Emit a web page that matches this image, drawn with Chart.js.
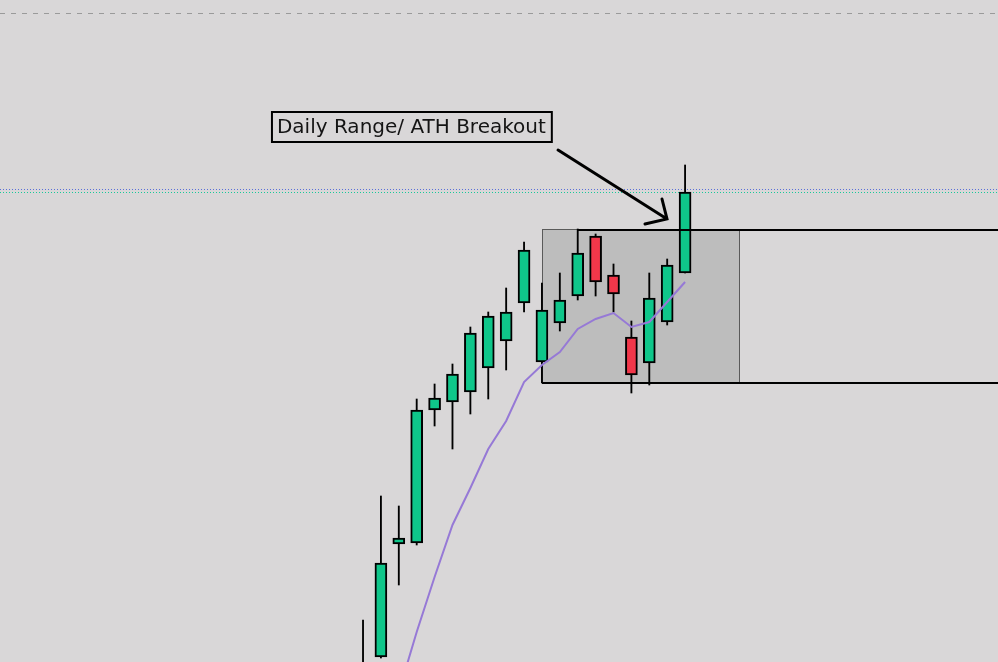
<!DOCTYPE html>
<html>
<head>
<meta charset="utf-8">
<script src="https://cdn.jsdelivr.net/npm/chart.js@4.4.0/dist/chart.umd.min.js"></script>
<style>
  html, body { margin: 0; padding: 0; background: #d9d7d8; overflow: hidden; }
  #wrap { width: 998px; height: 662px; }
</style>
</head>
<body>
<div id="wrap"><canvas id="chart" width="998" height="662"></canvas></div>
<script>
// daily candles, price in chart units (0 = bottom of the view)
const bars  = [0, 1, 2, 3, 4, 5, 6, 7, 8, 9, 10, 11, 12, 13, 14, 15, 16, 17, 18];
const open  = [-58, 5, 118, 119, 252, 260, 270, 294, 321, 359, 300, 339, 366, 426, 387, 325, 299, 340, 389];
const close = [-18, 99, 124, 252, 264, 288, 329, 346, 350, 412, 352, 362, 409, 380, 368, 287, 364, 397, 470];
const high  = [42, 166, 156, 263, 278, 298, 335, 350, 374, 420, 379, 389, 433, 428, 398, 341, 389, 403, 497];
const low   = [-78, 4, 77, 117, 236, 213, 248, 263, 292, 350, 279, 331, 362, 366, 350, 269, 277, 337, 389];
const ma    = [-130, -60, -30, 30, 85, 137, 174, 213, 241, 280, 297, 310, 333, 343, 349, 335, 340, 360, 380];

// levels drawn on the chart
const prevHigh = 649;
const athLevel = 473;
const lastClose = 470;
const rangeHigh = 433;
const rangeLow = 280;
const rangeFrom = 10;
const rangeTo = 21;
const highLineFrom = 12;
const labelText = 'Daily Range/ ATH Breakout';

const GREEN = '#0fc68a';
const RED = '#f1374a';

const levels = {
  id: 'levels',
  beforeDatasetsDraw(chart) {
    const { ctx, chartArea: a, scales: { x, y } } = chart;
    ctx.save();

    // dashed line near the top
    ctx.strokeStyle = '#9a9a9a';
    ctx.lineWidth = 1;
    ctx.setLineDash([5, 6]);
    let py = Math.round(y.getPixelForValue(prevHigh)) + 0.5;
    ctx.beginPath(); ctx.moveTo(a.left, py); ctx.lineTo(a.right, py); ctx.stroke();

    // dotted price lines
    ctx.setLineDash([1, 2]);
    ctx.strokeStyle = '#5b6fd8';
    py = Math.round(y.getPixelForValue(athLevel)) + 0.5;
    ctx.beginPath(); ctx.moveTo(a.left, py); ctx.lineTo(a.right, py); ctx.stroke();
    ctx.strokeStyle = '#18c99a';
    py = Math.round(y.getPixelForValue(lastClose)) + 0.5;
    ctx.beginPath(); ctx.moveTo(a.left, py); ctx.lineTo(a.right, py); ctx.stroke();
    ctx.setLineDash([]);

    // range box
    const x0 = Math.round(x.getPixelForValue(rangeFrom));
    const x1 = Math.round(x.getPixelForValue(rangeTo));
    const y0 = Math.round(y.getPixelForValue(rangeHigh));
    const y1 = Math.round(y.getPixelForValue(rangeLow));
    ctx.fillStyle = '#bdbdbd';
    ctx.fillRect(x0, y0, x1 - x0, y1 - y0);
    ctx.strokeStyle = '#5a5a5a';
    ctx.strokeRect(x0 + 0.5, y0 + 0.5, x1 - x0, y1 - y0);
    ctx.restore();
  },
  afterDatasetsDraw(chart) {
    const { ctx, chartArea: a, scales: { x, y } } = chart;
    ctx.save();

    // range high / low lines
    ctx.strokeStyle = '#000';
    ctx.lineWidth = 2;
    let py = Math.round(y.getPixelForValue(rangeHigh)) + 1;
    ctx.beginPath(); ctx.moveTo(Math.round(x.getPixelForValue(highLineFrom)), py); ctx.lineTo(a.right, py); ctx.stroke();
    py = Math.round(y.getPixelForValue(rangeLow)) + 1;
    ctx.beginPath(); ctx.moveTo(Math.round(x.getPixelForValue(rangeFrom)), py); ctx.lineTo(a.right, py); ctx.stroke();

    // label
    ctx.font = '20px "DejaVu Sans"';
    ctx.textBaseline = 'middle';
    const w = ctx.measureText(labelText).width;
    const lx = x.getPixelForValue(-5.09);
    const ly = y.getPixelForValue(550);
    ctx.lineWidth = 2;
    ctx.strokeRect(lx, ly, w + 11, 30);
    ctx.fillStyle = '#141414';
    ctx.fillText(labelText, lx + 5, ly + 16);

    // arrow
    ctx.lineWidth = 3;
    ctx.lineCap = 'round';
    const tx = x.getPixelForValue(16.99), ty = y.getPixelForValue(443);
    ctx.beginPath();
    ctx.moveTo(x.getPixelForValue(10.9), y.getPixelForValue(512));
    ctx.lineTo(tx, ty);
    ctx.moveTo(x.getPixelForValue(15.76), y.getPixelForValue(438));
    ctx.lineTo(tx, ty);
    ctx.lineTo(x.getPixelForValue(16.71), y.getPixelForValue(463));
    ctx.stroke();
    ctx.restore();
  }
};

new Chart(document.getElementById('chart'), {
  type: 'bar',
  data: {
    datasets: [
      {
        type: 'line',
        data: bars.map((b, i) => ({ x: b, y: ma[i] })),
        borderColor: '#9679d6',
        borderWidth: 2,
        pointRadius: 0,
        tension: 0,
        order: 1
      },
      {
        data: bars.map((b, i) => ({ x: b, y: [open[i], close[i]] })),
        backgroundColor: bars.map(i => close[i] >= open[i] ? GREEN : RED),
        borderColor: '#000',
        borderWidth: 2,
        borderSkipped: false,
        barThickness: 12,
        grouped: false,
        order: 2
      },
      {
        data: bars.map((b, i) => ({ x: b, y: [low[i], high[i]] })),
        backgroundColor: '#000',
        borderWidth: 0,
        barThickness: 1.2,
        grouped: false,
        order: 3
      }
    ]
  },
  options: {
    responsive: false,
    devicePixelRatio: 1,
    animation: false,
    events: [],
    layout: { padding: 0 },
    plugins: { legend: { display: false }, tooltip: { enabled: false } },
    scales: {
      x: { type: 'linear', display: false, offset: false, min: -20.29, max: 35.49 },
      y: { display: false, min: 0, max: 662 }
    }
  },
  plugins: [levels]
});
</script>
</body>
</html>
